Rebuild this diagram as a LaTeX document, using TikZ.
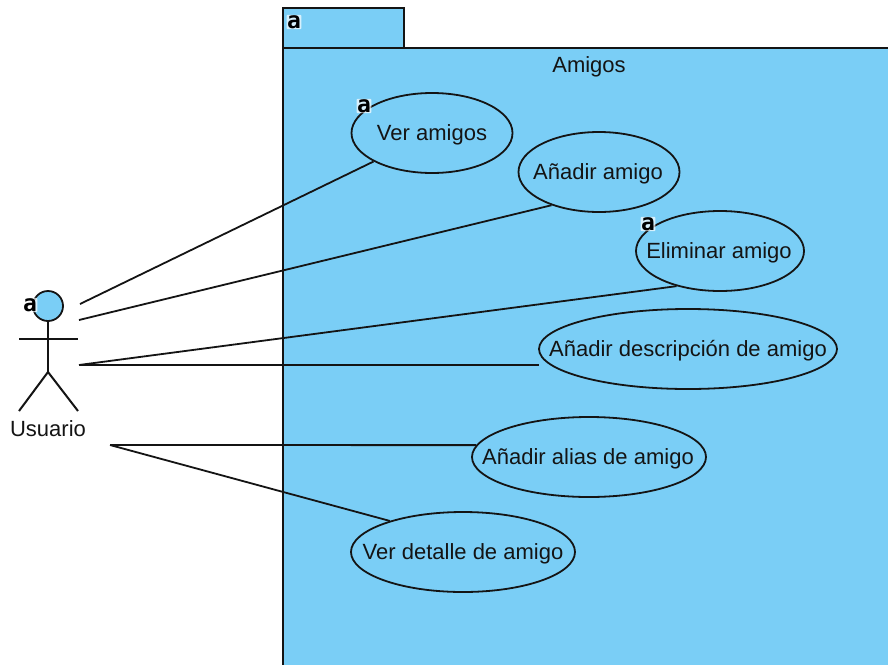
\documentclass[tikz,border=0pt]{standalone}
\usepackage{fontspec}
\setmainfont{Liberation Sans}
\setmonofont{DejaVu Sans Mono}
\usetikzlibrary{shapes.geometric}
\definecolor{umlblue}{RGB}{122,206,246}
\definecolor{linecol}{RGB}{20,20,20}
\tikzset{
  every node/.style={font=\fontsize{22}{24}\selectfont,text=linecol},
  usecase/.style={ellipse,draw=linecol,fill=umlblue,line width=1.8pt,inner sep=0pt,minimum height=80pt},
  pkg/.style={draw=linecol,fill=umlblue,line width=1.8pt},
  actorline/.style={draw=linecol,line width=2pt},
  assoc/.style={draw=linecol,line width=1.8pt},
  badge/.style={fill=white,fill opacity=.7,text opacity=1,rounded corners=1pt,inner sep=0.5pt,font=\fontsize{23}{23}\ttfamily\bfseries\selectfont,text=black}
}
\begin{document}
\begin{tikzpicture}[x=1pt,y=-1pt]
\useasboundingbox (0,0) rectangle (888,664);
\fill[white] (0,0) rectangle (888,664);
% package
\path[pkg] (283,8) rectangle (404,48);
\path[pkg] (283,48) rectangle (895,672);
\node[badge] (pb) at (294,22) {a};
\node (title) at (589,67) {Amigos};
% use cases
\node[usecase,minimum width=161pt] (ver) at (432,133) {};
\node[usecase,minimum width=161pt] (anadir) at (599,172) {};
\node[usecase,minimum width=168pt] (elim) at (720,251) {};
\node[usecase,minimum width=298pt] (desc) at (688,349) {};
\node[usecase,minimum width=234pt] (alias) at (589,457) {};
\node[usecase,minimum width=224pt] (detalle) at (463,552) {};
\node (tver) at (432,135) {Ver amigos};
\node (tanadir) at (598,174) {Añadir amigo};
\node (telim) at (719,253) {Eliminar amigo};
\node (tdesc) at (688,351) {Añadir descripción de amigo};
\node (talias) at (588,459) {Añadir alias de amigo};
\node (tdetalle) at (463,554) {Ver detalle de amigo};
\node[badge] (b1) at (364,106) {a};
\node[badge] (b2) at (648,224) {a};
% actor
\coordinate (hip) at (48,372);
\coordinate (armL) at (19,339);
\coordinate (armR) at (78,339);
\coordinate (legL) at (19,411);
\coordinate (legR) at (78,411);
\node[circle,draw=linecol,fill=umlblue,line width=1.8pt,minimum size=30pt,inner sep=0pt] (head) at (48,306) {};
\draw[actorline] (head.south) -- (hip);
\draw[actorline] (armL) -- (armR);
\draw[actorline] (legL) -- (hip) -- (legR);
\node (usuario) at (48,429) {Usuario};
\node[badge] (b3) at (30,305) {a};
% connector free ends
\coordinate (s1) at (80,304);
\coordinate (s2) at (79,320);
\coordinate (s3) at (79,365);
\coordinate (s4) at (110,445);
\coordinate (descend) at (539,365);
\draw[assoc] (s1) -- (ver.206.2);
\draw[assoc] (s2) -- (anadir.215);
\draw[assoc] (s3) -- (elim.219.8);
\draw[assoc] (s3) -- (descend);
\draw[assoc] (s4) -- (alias.174.1);
\draw[assoc] (s4) -- (detalle.157.3);
\end{tikzpicture}
\end{document}
